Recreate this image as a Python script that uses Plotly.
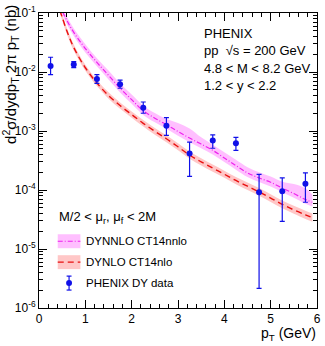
import plotly.graph_objects as go

# ---------------- data ----------------
pt_data = [0.25, 0.75, 1.25, 1.75, 2.25, 2.75, 3.25, 3.75, 4.25, 4.75, 5.25, 5.75]
sig_data = [0.0127, 0.0134, 0.0076, 0.0062, 0.00248, 0.00123, 4.15e-4, 6.9e-4, 6.2e-4, 9.2e-5, 9.5e-5, 1.28e-4]
sig_hi = [0.0178, 0.0150, 0.0090, 0.0073, 0.0031, 0.00168, 6.5e-4, 8.6e-4, 7.8e-4, 1.84e-4, 1.6e-4, 1.95e-4]
sig_lo = [0.0090, 0.0119, 0.0064, 0.0053, 0.0020, 0.00084, 1.7e-4, 5.1e-4, 4.7e-4, 2.15e-6, 2.95e-5, 6.2e-5]

pt_th = [0.45, 0.5, 0.6, 0.75, 1.0, 1.25, 1.5, 1.75, 2.0, 2.25, 2.5, 2.75, 3.0,
         3.25, 3.5, 3.75, 4.0, 4.25, 4.5, 4.75, 5.0, 5.25, 5.5, 5.75, 5.9]
nlo = [0.11, 0.085, 0.050, 0.026, 0.0118, 0.0065, 0.0040, 0.0027, 0.0019, 0.00135, 0.00099,
       0.00074, 0.00054, 0.00039, 0.00030, 0.000235, 0.000185, 0.000145, 0.000116,
       0.000093, 0.000073, 0.000057, 0.000046, 0.000038, 0.000034]
nlo_up_rel = [1.12, 1.12, 1.12, 1.12, 1.12, 1.12, 1.13, 1.13, 1.13, 1.14, 1.14, 1.14, 1.15,
              1.15, 1.15, 1.15, 1.15, 1.15, 1.16, 1.16, 1.16, 1.16, 1.17, 1.17, 1.17]
nlo_dn_rel = [0.89, 0.89, 0.89, 0.89, 0.89, 0.89, 0.88, 0.88, 0.88, 0.88, 0.87, 0.87, 0.87,
              0.87, 0.87, 0.87, 0.87, 0.86, 0.86, 0.86, 0.86, 0.86, 0.86, 0.85, 0.85]
nnlo = [0.15, 0.11, 0.075, 0.047, 0.025, 0.0145, 0.0088, 0.0053, 0.0034, 0.0022, 0.00165,
        0.00128, 0.00098, 0.00076, 0.00060, 0.00047, 0.00035, 0.00026, 0.000195,
        0.000160, 0.000135, 0.000108, 0.000087, 0.000069, 0.000062]
nnlo_up_rel = [1.15, 1.15, 1.16, 1.16, 1.18, 1.18, 1.20, 1.20, 1.22, 1.22, 1.22, 1.25, 1.40,
               1.45, 1.30, 1.25, 1.25, 1.25, 1.25, 1.25, 1.25, 1.28, 1.45, 1.55, 1.35]
nnlo_dn_rel = [0.88, 0.88, 0.87, 0.87, 0.86, 0.86, 0.85, 0.85, 0.85, 0.85, 0.85, 0.85, 0.85,
               0.85, 0.85, 0.85, 0.85, 0.85, 0.85, 0.85, 0.85, 0.85, 0.85, 0.85, 0.85]

y_tickvals = [1e-6, 1e-5, 1e-4, 1e-3, 1e-2, 1e-1]
y_ticktext = ["10<sup>-6</sup>", "10<sup>-5</sup>", "10<sup>-4</sup>",
              "10<sup>-3</sup>", "10<sup>-2</sup>", "10<sup>-1</sup>"]
x_tickvals = [0, 1, 2, 3, 4, 5, 6]

# ---------------- styles ----------------
FONT = "Liberation Sans, Arial, Helvetica, sans-serif"
BLUE = "#1010e8"
MAG = "#ee22ee"
RED = "#e81010"
MAG_FILL = "rgba(255,0,255,0.25)"
RED_FILL = "rgba(255,0,0,0.22)"

W, H = 325, 346
L, R, T, B = 39, 4, 12, 38
PW, PH = W - L - R, H - T - B

def px(x):
    return (x - L) / PW

def py(y):
    return (H - B - y) / PH

fig = go.Figure()

# bands
for val, up, dn, fill in [(nlo, nlo_up_rel, nlo_dn_rel, RED_FILL),
                          (nnlo, nnlo_up_rel, nnlo_dn_rel, MAG_FILL)]:
    hi = [v * u for v, u in zip(val, up)]
    lo = [v * d for v, d in zip(val, dn)]
    fig.add_trace(go.Scatter(x=pt_th, y=hi, mode="lines", line=dict(width=0, shape="spline"),
                             showlegend=False, hoverinfo="skip"))
    fig.add_trace(go.Scatter(x=pt_th, y=lo, mode="lines", line=dict(width=0, shape="spline"),
                             fill="tonexty", fillcolor=fill, showlegend=False, hoverinfo="skip"))

# central lines
fig.add_trace(go.Scatter(x=pt_th, y=nlo, mode="lines",
                         line=dict(color=RED, width=1.4, dash="6px,4px", shape="spline"),
                         showlegend=False))
fig.add_trace(go.Scatter(x=pt_th, y=nnlo, mode="lines",
                         line=dict(color=MAG, width=1.2, dash="5px,2px,1px,2px", shape="spline"),
                         showlegend=False))

# data
fig.add_trace(go.Scatter(
    x=pt_data, y=sig_data, mode="markers",
    marker=dict(color=BLUE, size=6, symbol="circle"),
    error_y=dict(type="data", symmetric=False,
                 array=[h - v for h, v in zip(sig_hi, sig_data)],
                 arrayminus=[v - l for v, l in zip(sig_data, sig_lo)],
                 color=BLUE, thickness=1.2, width=2.5),
    showlegend=False))

axis_common = dict(showline=True, linecolor="black", linewidth=1, mirror="allticks",
                   ticks="inside", tickcolor="black", showgrid=False, zeroline=False,
                   tickfont=dict(family=FONT, size=12, color="black"))

fig.update_xaxes(range=[0, 6], tickvals=x_tickvals, ticklen=8,
                 minor=dict(ticks="inside", ticklen=4, dtick=0.2, tickcolor="black", showgrid=False),
                 **axis_common)
fig.update_yaxes(type="log", range=[-6, -1], tickvals=y_tickvals, ticktext=y_ticktext, ticklen=8,
                 minor=dict(ticks="inside", ticklen=4, tickcolor="black", showgrid=False, dtick="D1"),
                 **axis_common)

annos = []
# axis titles
annos.append(dict(x=px(322), y=py(334), xref="paper", yref="paper", xanchor="right", yanchor="middle",
                  text="p<sub>T</sub> (GeV)", showarrow=False,
                  font=dict(family=FONT, size=14, color="black")))
annos.append(dict(x=px(10), y=py(2), xref="paper", yref="paper", xanchor="center", yanchor="top",
                  text="d<sup>2</sup>\u03c3/dydp<sub>T</sub> 2\u03c0 p<sub>T</sub> (nb)", textangle=-90,
                  showarrow=False, font=dict(family=FONT, size=15, color="black")))
# info text
info = ["PHENIX", "pp  \u221as = 200 GeV", "4.8 &lt; M &lt; 8.2 GeV", "1.2 &lt; y &lt; 2.2"]
for i, t in enumerate(info):
    annos.append(dict(x=px(204), y=py([33, 50, 68, 85][i]), xref="paper", yref="paper",
                      xanchor="left", yanchor="middle", text=t, showarrow=False,
                      font=dict(family=FONT, size=13, color="black")))
# legend
annos.append(dict(x=px(57), y=py(217), xref="paper", yref="paper", xanchor="left", yanchor="middle",
                  text="M/2 &lt; \u03bc<sub>r</sub>, \u03bc<sub>f</sub> &lt; 2M", showarrow=False,
                  font=dict(family=FONT, size=13, color="black")))
leg_items = [("DYNNLO CT14nnlo", 241), ("DYNLO CT14nlo", 262), ("PHENIX DY data", 283)]
for t, yy in leg_items:
    annos.append(dict(x=px(85), y=py(yy), xref="paper", yref="paper", xanchor="left", yanchor="middle",
                      text=t, showarrow=False, font=dict(family=FONT, size=11.5, color="black")))

shapes = []
# magenta entry
shapes.append(dict(type="rect", xref="paper", yref="paper", x0=px(58), x1=px(81), y0=py(234), y1=py(248),
                   fillcolor=MAG_FILL, line=dict(width=0), layer="above"))
shapes.append(dict(type="line", xref="paper", yref="paper", x0=px(58), x1=px(81), y0=py(241), y1=py(241),
                   line=dict(color=MAG, width=1.2, dash="5px,2px,1px,2px"), layer="above"))
# red entry
shapes.append(dict(type="rect", xref="paper", yref="paper", x0=px(58), x1=px(81), y0=py(255), y1=py(269),
                   fillcolor=RED_FILL, line=dict(width=0), layer="above"))
shapes.append(dict(type="line", xref="paper", yref="paper", x0=px(58), x1=px(81), y0=py(262), y1=py(262),
                   line=dict(color=RED, width=1.4, dash="6px,4px"), layer="above"))
# data entry
shapes.append(dict(type="line", xref="paper", yref="paper", x0=px(69.5), x1=px(69.5), y0=py(276), y1=py(290),
                   line=dict(color=BLUE, width=1.2), layer="above"))
for yy in (276, 290):
    shapes.append(dict(type="line", xref="paper", yref="paper", x0=px(67), x1=px(72), y0=py(yy), y1=py(yy),
                       line=dict(color=BLUE, width=1.2), layer="above"))
shapes.append(dict(type="circle", xref="paper", yref="paper", x0=px(66.5), x1=px(72.5), y0=py(280), y1=py(286),
                   fillcolor=BLUE, line=dict(color=BLUE, width=0), layer="above"))

fig.update_layout(width=W, height=H, margin=dict(l=L, r=R, t=T, b=B),
                  paper_bgcolor="white", plot_bgcolor="white", showlegend=False,
                  annotations=annos, shapes=shapes,
                  font=dict(family=FONT, color="black"))

fig.write_html("out.html")
